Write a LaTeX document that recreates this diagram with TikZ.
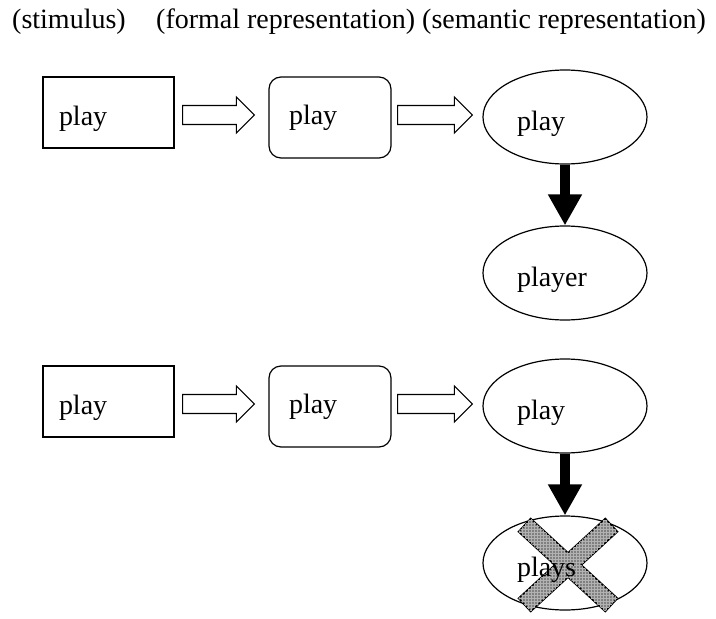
\documentclass[tikz,border=0pt]{standalone}
\usepackage{fontspec}
\setmainfont{Liberation Serif}
\usetikzlibrary{shapes.geometric,arrows.meta,calc,patterns}

\tikzset{
  header/.style={anchor=base west, inner sep=0pt},
  stim/.style={draw, line width=1.2pt, minimum height=71pt, text width=99pt,
    inner xsep=16pt, inner ysep=0pt, align=left, text height=25pt, text depth=0pt},
  form/.style={draw, line width=1.2pt, rounded corners=12pt, minimum height=81pt,
    text width=82pt, inner xsep=20pt, inner ysep=0pt, align=left},
  sem/.style={draw, ellipse, line width=1.2pt, minimum width=164pt, minimum height=94pt,
    inner sep=0pt, text width=96pt, align=left, text height=27pt, text depth=0pt},
  hollow/.style={draw, line width=1.1pt, fill=white, line join=miter},
  link/.style={line width=10pt, -{Triangle[width=32pt,length=31pt]}},
  cross/.style={draw, line width=1.5pt, fill=gray,
    postaction={pattern=grid, pattern color=gray!60}},
}

% hollow block arrow: #1 = tail, #2 = tip
\newcommand{\hollowarrow}[2]{%
  \draw[hollow] ($(#1)+(0,-9.5)$) -- ($(#2)+(-18,-9.5)$) -- ($(#2)+(-18,-18)$) -- (#2)
    -- ($(#2)+(-18,18)$) -- ($(#2)+(-18,9.5)$) -- ($(#1)+(0,9.5)$) -- cycle;}

\begin{document}
\begin{tikzpicture}[x=1pt, y=-1pt, every node/.style={font=\fontsize{28pt}{34pt}\selectfont}]
\useasboundingbox (0,0) rectangle (716,619);

% column headers
\node[header] (h1) at (12,28) {(stimulus)};
\node[header] (h2) at (156,28) {(formal representation)};
\node[header] (h3) at (422,28) {(semantic representation)};

% first row
\node[stim] (s1) at (108.5,112.5) {play};
\node[form] (f1) at (330,117.5) {play};
\node[sem]  (e1) at (565,117) {play};
\node[sem]  (e2) at (565,273) {player};

% second row
\node[stim] (s3) at (108.5,401.5) {play};
\node[form] (f3) at (330,406.5) {play};
\node[sem]  (e3) at (565,406) {play};
\node[sem]  (e4) at (565,563) {};

% hollow arrows
\coordinate (a1) at ($(s1.east)+(8,2.5)$);
\coordinate (b1) at ($(f1.west)+(-14,-2.5)$);
\coordinate (a2) at ($(f1.east)+(6,-2.5)$);
\coordinate (b2) at ($(e1.west)+(-10,-2)$);
\coordinate (a3) at ($(s3.east)+(8,2.5)$);
\coordinate (b3) at ($(f3.west)+(-14,-2.5)$);
\coordinate (a4) at ($(f3.east)+(6,-2.5)$);
\coordinate (b4) at ($(e3.west)+(-10,-2)$);
\hollowarrow{a1}{b1}
\hollowarrow{a2}{b2}
\hollowarrow{a3}{b3}
\hollowarrow{a4}{b4}

% thick arrows
\draw[link] (e1.south) -- (e2.north);
\draw[link] (e3.south) -- (e4.north);

% the cross over the last form
\coordinate (xc) at ($(e4)+(3,2)$);
\draw[cross, shift={(xc)}] (0,-12.2) -- (37.3,-46.5) -- (49.5,-33.3) -- (13.3,0)
  -- (49.5,33.3) -- (37.3,46.5) -- (0,12.2) -- (-37.3,46.5) -- (-49.5,33.3)
  -- (-13.3,0) -- (-49.5,-33.3) -- (-37.3,-46.5) -- cycle;
\node[sem, draw=none] (t4) at (e4) {plays};
\end{tikzpicture}
\end{document}
